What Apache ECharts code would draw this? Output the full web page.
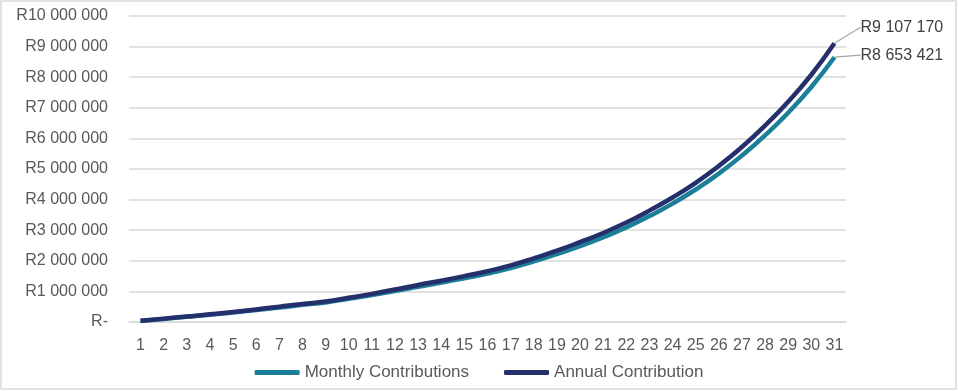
<!DOCTYPE html>
<html>
<head>
<meta charset="utf-8">
<script src="https://cdn.jsdelivr.net/npm/echarts@6/dist/echarts.min.js"></script>
<style>
html,body{margin:0;padding:0;background:#fff;}
#chart{width:958px;height:391px;}
</style>
</head>
<body>
<div id="chart"></div>
<script>
const categories = ['1','2','3','4','5','6','7','8','9','10','11','12','13','14','15','16','17','18','19','20','21','22','23','24','25','26','27','28','29','30','31'];
const monthlyContributions = [35000, 100000, 170000, 240000, 310000, 390000, 470000, 560000, 640000, 760000, 880000, 1010000, 1150000, 1290000, 1430000, 1580000, 1760000, 1980000, 2220000, 2480000, 2770000, 3090000, 3460000, 3870000, 4330000, 4850000, 5440000, 6100000, 6840000, 7680000, 8653421];
const annualContribution = [40000, 110000, 180000, 250000, 330000, 410000, 500000, 590000, 670000, 790000, 920000, 1060000, 1210000, 1350000, 1500000, 1660000, 1850000, 2080000, 2330000, 2610000, 2910000, 3250000, 3640000, 4070000, 4550000, 5100000, 5720000, 6420000, 7200000, 8080000, 9107170];
const seriesNames = ['Monthly Contributions', 'Annual Contribution'];
const yTicks = { min: 0, max: 10000000, interval: 1000000 };

function fmtR(v) {
  if (v === 0) return 'R-';
  return 'R' + Math.round(v).toString().replace(/\B(?=(\d{3})+(?!\d))/g, ' ');
}
function withEndLabel(arr) {
  return arr.map((v, i) => i === arr.length - 1
    ? { value: v, label: { show: true }, labelLine: { show: true } }
    : v);
}

const font = 'Liberation Sans, Arial, sans-serif';
const chart = echarts.init(document.getElementById('chart'));
chart.setOption({
  animation: false,
  backgroundColor: '#ffffff',
  graphic: [{
    type: 'rect',
    shape: { x: 1, y: 1, width: 955, height: 388 },
    style: { fill: 'none', stroke: '#d9d9d9', lineWidth: 1.5 },
    silent: true
  }],
  grid: { left: 129, right: 112, top: 16, bottom: 69 },
  legend: {
    data: seriesNames,
    bottom: 5,
    left: 'center',
    icon: 'roundRect',
    itemWidth: 45,
    itemHeight: 5,
    itemGap: 35,
    textStyle: { fontFamily: font, fontSize: 17, color: '#595959' }
  },
  xAxis: {
    type: 'category',
    data: categories,
    boundaryGap: true,
    axisLine: { show: true, lineStyle: { color: '#d9d9d9', width: 1.5 } },
    axisTick: { show: false },
    axisLabel: { fontFamily: font, fontSize: 16, color: '#595959', margin: 16, interval: 0 }
  },
  yAxis: {
    type: 'value',
    min: yTicks.min,
    max: yTicks.max,
    interval: yTicks.interval,
    axisLine: { show: false },
    axisTick: { show: false },
    splitLine: { lineStyle: { color: '#d9d9d9', width: 1.5 } },
    axisLabel: { fontFamily: font, fontSize: 16, color: '#595959', margin: 21, formatter: fmtR }
  },
  series: [
    {
      name: seriesNames[0],
      type: 'line',
      data: withEndLabel(monthlyContributions),
      smooth: true,
      symbol: 'circle',
      symbolSize: 0.1,
      showSymbol: true,
      lineStyle: { color: '#1b7f99', width: 4.5 },
      itemStyle: { color: '#1b7f99' },
      label: { show: false, position: 'right', padding: [0, 0, 0, 10], formatter: p => fmtR(p.value), fontFamily: font, fontSize: 16, color: '#404040' },
      labelLine: { show: true, lineStyle: { color: '#a6a6a6', width: 1.2 } },
      labelLayout: { dx: 11, dy: -2 }
    },
    {
      name: seriesNames[1],
      type: 'line',
      data: withEndLabel(annualContribution),
      smooth: true,
      symbol: 'circle',
      symbolSize: 0.1,
      showSymbol: true,
      lineStyle: { color: '#24306b', width: 4.5 },
      itemStyle: { color: '#24306b' },
      label: { show: false, position: 'right', padding: [0, 0, 0, 10], formatter: p => fmtR(p.value), fontFamily: font, fontSize: 16, color: '#404040' },
      labelLine: { show: true, lineStyle: { color: '#a6a6a6', width: 1.2 } },
      labelLayout: { dx: 11, dy: -16 }
    }
  ]
});
</script>
</body>
</html>
